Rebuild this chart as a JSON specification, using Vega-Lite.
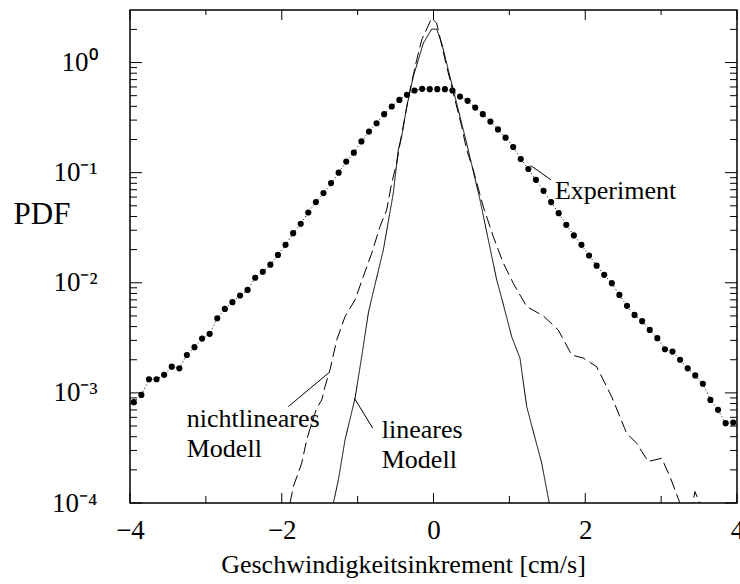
{
  "$schema": "https://vega.github.io/schema/vega-lite/v6.json",
  "width": 607,
  "height": 493,
  "autosize": {"type": "none"},
  "padding": {"left": 130, "top": 10, "right": 3, "bottom": 81},
  "background": "white",
  "config": {
    "font": "Liberation Serif",
    "view": {"stroke": "#000", "strokeWidth": 1.5},
    "axis": {
      "grid": false,
      "domain": false,
      "tickSize": 0,
      "tickOpacity": 0,
      "labelColor": "#000",
      "labelFont": "Liberation Serif",
      "titleFont": "Liberation Serif",
      "titleColor": "#000",
      "titleFontWeight": "normal",
      "labelOverlap": false,
      "labelFlush": false
    }
  },
  "datasets": {
    "experiment": [
      {"v": -3.95, "pdf": 0.000824}, {"v": -3.85, "pdf": 0.000959}, {"v": -3.75, "pdf": 0.00133}, {"v": -3.65, "pdf": 0.00133},
      {"v": -3.55, "pdf": 0.00146}, {"v": -3.45, "pdf": 0.00173}, {"v": -3.35, "pdf": 0.00167}, {"v": -3.25, "pdf": 0.00221},
      {"v": -3.15, "pdf": 0.0026}, {"v": -3.05, "pdf": 0.00311}, {"v": -2.95, "pdf": 0.00344}, {"v": -2.85, "pdf": 0.00476},
      {"v": -2.75, "pdf": 0.00579}, {"v": -2.65, "pdf": 0.00667}, {"v": -2.55, "pdf": 0.00766}, {"v": -2.45, "pdf": 0.00861},
      {"v": -2.35, "pdf": 0.0111}, {"v": -2.25, "pdf": 0.0126}, {"v": -2.15, "pdf": 0.0146}, {"v": -2.05, "pdf": 0.0179},
      {"v": -1.95, "pdf": 0.0221}, {"v": -1.85, "pdf": 0.0282}, {"v": -1.75, "pdf": 0.0343}, {"v": -1.65, "pdf": 0.0435},
      {"v": -1.55, "pdf": 0.054}, {"v": -1.45, "pdf": 0.0652}, {"v": -1.35, "pdf": 0.0804}, {"v": -1.25, "pdf": 0.1},
      {"v": -1.15, "pdf": 0.126}, {"v": -1.05, "pdf": 0.152}, {"v": -0.95, "pdf": 0.192}, {"v": -0.85, "pdf": 0.236},
      {"v": -0.75, "pdf": 0.281}, {"v": -0.65, "pdf": 0.34}, {"v": -0.55, "pdf": 0.399}, {"v": -0.45, "pdf": 0.458},
      {"v": -0.35, "pdf": 0.509}, {"v": -0.25, "pdf": 0.557}, {"v": -0.15, "pdf": 0.577}, {"v": -0.05, "pdf": 0.573},
      {"v": 0.05, "pdf": 0.573}, {"v": 0.15, "pdf": 0.573}, {"v": 0.25, "pdf": 0.557}, {"v": 0.35, "pdf": 0.491},
      {"v": 0.45, "pdf": 0.449}, {"v": 0.55, "pdf": 0.39}, {"v": 0.65, "pdf": 0.34}, {"v": 0.75, "pdf": 0.291},
      {"v": 0.85, "pdf": 0.247}, {"v": 0.95, "pdf": 0.208}, {"v": 1.05, "pdf": 0.171}, {"v": 1.15, "pdf": 0.133},
      {"v": 1.25, "pdf": 0.108}, {"v": 1.35, "pdf": 0.0861}, {"v": 1.45, "pdf": 0.0684}, {"v": 1.55, "pdf": 0.054},
      {"v": 1.65, "pdf": 0.0429}, {"v": 1.75, "pdf": 0.0336}, {"v": 1.85, "pdf": 0.0269}, {"v": 1.95, "pdf": 0.0221},
      {"v": 2.05, "pdf": 0.0177}, {"v": 2.15, "pdf": 0.0143}, {"v": 2.25, "pdf": 0.0118}, {"v": 2.35, "pdf": 0.00991},
      {"v": 2.45, "pdf": 0.00776}, {"v": 2.55, "pdf": 0.00617}, {"v": 2.65, "pdf": 0.00511}, {"v": 2.75, "pdf": 0.00448},
      {"v": 2.85, "pdf": 0.00373}, {"v": 2.95, "pdf": 0.00314}, {"v": 3.05, "pdf": 0.00249}, {"v": 3.15, "pdf": 0.00237},
      {"v": 3.25, "pdf": 0.002}, {"v": 3.35, "pdf": 0.00167}, {"v": 3.45, "pdf": 0.00144}, {"v": 3.55, "pdf": 0.00121},
      {"v": 3.65, "pdf": 0.000863}, {"v": 3.75, "pdf": 0.000701}, {"v": 3.85, "pdf": 0.000531}, {"v": 3.95, "pdf": 0.000537}
    ],
    "models": [
      {"model": "linear", "v": -1.4, "pdf": 0.00005}, {"model": "linear", "v": -1.32, "pdf": 0.0000995},
      {"model": "linear", "v": -1.254, "pdf": 0.000162}, {"model": "linear", "v": -1.166, "pdf": 0.000374},
      {"model": "linear", "v": -1.034, "pdf": 0.000895}, {"model": "linear", "v": -0.946, "pdf": 0.00214},
      {"model": "linear", "v": -0.859, "pdf": 0.0053}, {"model": "linear", "v": -0.814, "pdf": 0.00724},
      {"model": "linear", "v": -0.661, "pdf": 0.0199}, {"model": "linear", "v": -0.53, "pdf": 0.0652},
      {"model": "linear", "v": -0.464, "pdf": 0.161}, {"model": "linear", "v": -0.419, "pdf": 0.213},
      {"model": "linear", "v": -0.353, "pdf": 0.398}, {"model": "linear", "v": -0.266, "pdf": 0.746},
      {"model": "linear", "v": -0.134, "pdf": 1.5}, {"model": "linear", "v": -0.024, "pdf": 2.01},
      {"model": "linear", "v": 0.042, "pdf": 2.01}, {"model": "linear", "v": 0.108, "pdf": 1.5},
      {"model": "linear", "v": 0.217, "pdf": 0.746}, {"model": "linear", "v": 0.327, "pdf": 0.372},
      {"model": "linear", "v": 0.437, "pdf": 0.185}, {"model": "linear", "v": 0.613, "pdf": 0.0566},
      {"model": "linear", "v": 0.833, "pdf": 0.0106}, {"model": "linear", "v": 0.899, "pdf": 0.00724},
      {"model": "linear", "v": 1.03, "pdf": 0.00324}, {"model": "linear", "v": 1.14, "pdf": 0.00207},
      {"model": "linear", "v": 1.228, "pdf": 0.000752}, {"model": "linear", "v": 1.426, "pdf": 0.00023},
      {"model": "linear", "v": 1.526, "pdf": 0.0000995}, {"model": "linear", "v": 1.6, "pdf": 0.00005},
      {"model": "nonlinear", "v": -1.957, "pdf": 0.0000708}, {"model": "nonlinear", "v": -1.891, "pdf": 0.0000995},
      {"model": "nonlinear", "v": -1.847, "pdf": 0.000141}, {"model": "nonlinear", "v": -1.737, "pdf": 0.00023},
      {"model": "nonlinear", "v": -1.671, "pdf": 0.000374}, {"model": "nonlinear", "v": -1.605, "pdf": 0.000531},
      {"model": "nonlinear", "v": -1.539, "pdf": 0.000726}, {"model": "nonlinear", "v": -1.473, "pdf": 0.000863},
      {"model": "nonlinear", "v": -1.43, "pdf": 0.00114}, {"model": "nonlinear", "v": -1.364, "pdf": 0.00162},
      {"model": "nonlinear", "v": -1.275, "pdf": 0.00303}, {"model": "nonlinear", "v": -1.166, "pdf": 0.00493},
      {"model": "nonlinear", "v": -1.034, "pdf": 0.007}, {"model": "nonlinear", "v": -0.925, "pdf": 0.0114},
      {"model": "nonlinear", "v": -0.814, "pdf": 0.0186}, {"model": "nonlinear", "v": -0.705, "pdf": 0.0324},
      {"model": "nonlinear", "v": -0.617, "pdf": 0.0459}, {"model": "nonlinear", "v": -0.551, "pdf": 0.0804},
      {"model": "nonlinear", "v": -0.485, "pdf": 0.122}, {"model": "nonlinear", "v": -0.441, "pdf": 0.185},
      {"model": "nonlinear", "v": -0.375, "pdf": 0.324}, {"model": "nonlinear", "v": -0.31, "pdf": 0.565},
      {"model": "nonlinear", "v": -0.221, "pdf": 1.06}, {"model": "nonlinear", "v": -0.155, "pdf": 1.61},
      {"model": "nonlinear", "v": -0.024, "pdf": 2.53}, {"model": "nonlinear", "v": 0.042, "pdf": 2.28},
      {"model": "nonlinear", "v": 0.152, "pdf": 1.06}, {"model": "nonlinear", "v": 0.261, "pdf": 0.527},
      {"model": "nonlinear", "v": 0.372, "pdf": 0.262}, {"model": "nonlinear", "v": 0.437, "pdf": 0.161},
      {"model": "nonlinear", "v": 0.524, "pdf": 0.106}, {"model": "nonlinear", "v": 0.656, "pdf": 0.0492},
      {"model": "nonlinear", "v": 0.788, "pdf": 0.0263}, {"model": "nonlinear", "v": 0.92, "pdf": 0.0151},
      {"model": "nonlinear", "v": 1.051, "pdf": 0.00991}, {"model": "nonlinear", "v": 1.228, "pdf": 0.00608},
      {"model": "nonlinear", "v": 1.447, "pdf": 0.005}, {"model": "nonlinear", "v": 1.644, "pdf": 0.00373},
      {"model": "nonlinear", "v": 1.821, "pdf": 0.00221}, {"model": "nonlinear", "v": 1.974, "pdf": 0.00207},
      {"model": "nonlinear", "v": 2.15, "pdf": 0.00173}, {"model": "nonlinear", "v": 2.348, "pdf": 0.000925},
      {"model": "nonlinear", "v": 2.545, "pdf": 0.000431}, {"model": "nonlinear", "v": 2.677, "pdf": 0.000349},
      {"model": "nonlinear", "v": 2.83, "pdf": 0.000238}, {"model": "nonlinear", "v": 3.007, "pdf": 0.000255},
      {"model": "nonlinear", "v": 3.116, "pdf": 0.000174}, {"model": "nonlinear", "v": 3.248, "pdf": 0.0000995},
      {"model": "nonlinear", "v": 3.38, "pdf": 0.0000708}, {"model": "nonlinear", "v": 3.445, "pdf": 0.000127},
      {"model": "nonlinear", "v": 3.511, "pdf": 0.0000995}, {"model": "nonlinear", "v": 3.58, "pdf": 0.00005}
    ],
    "notes": [
      {"v": 1.6, "pdf": 0.0574, "label": "Experiment"},
      {"v": -3.252, "pdf": 0.000494, "label": "nichtlineares\nModell"},
      {"v": -0.682, "pdf": 0.000393, "label": "lineares\nModell"}
    ],
    "leaders": [
      {"v": 1.281, "pdf": 0.116, "v2": 1.548, "pdf2": 0.0861},
      {"v": -1.913, "pdf": 0.000751, "v2": -1.386, "pdf2": 0.00151},
      {"v": -1.043, "pdf": 0.000895, "v2": -0.801, "pdf2": 0.000478}
    ],
    "xTicks": [
      {"v": -4, "kind": "major"}, {"v": -3, "kind": "minor"}, {"v": -2, "kind": "major"}, {"v": -1, "kind": "minor"},
      {"v": 0, "kind": "major"}, {"v": 1, "kind": "minor"}, {"v": 2, "kind": "major"}, {"v": 3, "kind": "minor"},
      {"v": 4, "kind": "major"}
    ],
    "yTicks": [
      {"pdf": 0.0001, "kind": "major"}, {"pdf": 0.0002, "kind": "minor"}, {"pdf": 0.0003, "kind": "minor"}, {"pdf": 0.0004, "kind": "minor"},
      {"pdf": 0.0005, "kind": "minor"}, {"pdf": 0.0006, "kind": "minor"}, {"pdf": 0.0007, "kind": "minor"}, {"pdf": 0.0008, "kind": "minor"},
      {"pdf": 0.0009, "kind": "minor"}, {"pdf": 0.001, "kind": "major"}, {"pdf": 0.002, "kind": "minor"}, {"pdf": 0.003, "kind": "minor"},
      {"pdf": 0.004, "kind": "minor"}, {"pdf": 0.005, "kind": "minor"}, {"pdf": 0.006, "kind": "minor"}, {"pdf": 0.007, "kind": "minor"},
      {"pdf": 0.008, "kind": "minor"}, {"pdf": 0.009, "kind": "minor"}, {"pdf": 0.01, "kind": "major"}, {"pdf": 0.02, "kind": "minor"},
      {"pdf": 0.03, "kind": "minor"}, {"pdf": 0.04, "kind": "minor"}, {"pdf": 0.05, "kind": "minor"}, {"pdf": 0.06, "kind": "minor"},
      {"pdf": 0.07, "kind": "minor"}, {"pdf": 0.08, "kind": "minor"}, {"pdf": 0.09, "kind": "minor"}, {"pdf": 0.1, "kind": "major"},
      {"pdf": 0.2, "kind": "minor"}, {"pdf": 0.3, "kind": "minor"}, {"pdf": 0.4, "kind": "minor"}, {"pdf": 0.5, "kind": "minor"},
      {"pdf": 0.6, "kind": "minor"}, {"pdf": 0.7, "kind": "minor"}, {"pdf": 0.8, "kind": "minor"}, {"pdf": 0.9, "kind": "minor"},
      {"pdf": 1, "kind": "major"}, {"pdf": 2, "kind": "minor"}
    ]
  },
  "layer": [
    {
      "data": {"name": "experiment"},
      "mark": {"type": "line", "color": "#000", "strokeWidth": 1, "strokeDash": [1, 2.5]},
      "encoding": {
        "x": {
          "field": "v", "type": "quantitative",
          "scale": {"domain": [-4, 4], "nice": false, "zero": false},
          "axis": {
            "orient": "bottom",
            "values": [-4, -2, 0, 2, 4],
            "labelExpr": "datum.value < 0 ? '−' + abs(datum.value) : '' + datum.value",
            "labelFontSize": 27,
            "labelPadding": 14,
            "title": "Geschwindigkeitsinkrement [cm/s]",
            "titleFontSize": 26,
            "titleBaseline": "alphabetic",
            "titleAnchor": "middle",
            "titleX": 273,
            "titleY": 69
          }
        },
        "y": {
          "field": "pdf", "type": "quantitative",
          "scale": {"type": "log", "domain": [0.0001, 3], "nice": false},
          "axis": {
            "orient": "left",
            "values": [0.0001, 0.001, 0.01, 0.1, 1],
            "labelExpr": "round(log(datum.value) / LN10) === 0 ? '10⁰' : round(log(datum.value) / LN10) === -1 ? '10⁻¹' : round(log(datum.value) / LN10) === -2 ? '10⁻²' : round(log(datum.value) / LN10) === -3 ? '10⁻³' : '10⁻⁴'",
            "labelFontSize": 27,
            "labelPadding": 33,
            "title": "PDF",
            "titleFontSize": 31,
            "titleAngle": 0,
            "titleAlign": "left",
            "titleBaseline": "alphabetic",
            "titleX": -117,
            "titleY": 213
          }
        }
      }
    },
    {
      "data": {"name": "experiment"},
      "mark": {"type": "circle", "color": "#000", "size": 38, "opacity": 1},
      "encoding": {
        "x": {"field": "v", "type": "quantitative", "axis": null},
        "y": {"field": "pdf", "type": "quantitative", "axis": null}
      }
    },
    {
      "data": {"name": "models"},
      "mark": {"type": "line", "color": "#000", "strokeWidth": 1, "clip": true},
      "encoding": {
        "x": {"field": "v", "type": "quantitative", "axis": null},
        "y": {"field": "pdf", "type": "quantitative", "axis": null},
        "detail": {"field": "model"},
        "strokeDash": {
          "field": "model", "type": "nominal",
          "scale": {"domain": ["linear", "nonlinear"], "range": [[1, 0], [12, 5]]},
          "legend": null
        }
      }
    },
    {
      "data": {"name": "leaders"},
      "mark": {"type": "rule", "color": "#000", "strokeWidth": 1},
      "encoding": {
        "x": {"field": "v", "type": "quantitative", "axis": null},
        "y": {"field": "pdf", "type": "quantitative", "axis": null},
        "x2": {"field": "v2"},
        "y2": {"field": "pdf2"}
      }
    },
    {
      "data": {"name": "xTicks"},
      "transform": [{"filter": "datum.kind === 'major'"}],
      "mark": {"type": "rule", "color": "#000", "strokeWidth": 1, "y2Offset": -10},
      "encoding": {
        "x": {"field": "v", "type": "quantitative", "axis": null},
        "y": {"datum": 0.0001, "type": "quantitative", "axis": null},
        "y2": {"datum": 0.0001}
      }
    },
    {
      "data": {"name": "xTicks"},
      "transform": [{"filter": "datum.kind === 'minor'"}],
      "mark": {"type": "rule", "color": "#000", "strokeWidth": 1, "y2Offset": -7},
      "encoding": {
        "x": {"field": "v", "type": "quantitative", "axis": null},
        "y": {"datum": 0.0001, "type": "quantitative", "axis": null},
        "y2": {"datum": 0.0001}
      }
    },
    {
      "data": {"name": "xTicks"},
      "transform": [{"filter": "datum.kind === 'major'"}],
      "mark": {"type": "rule", "color": "#000", "strokeWidth": 1, "y2Offset": 10},
      "encoding": {
        "x": {"field": "v", "type": "quantitative", "axis": null},
        "y": {"datum": 3, "type": "quantitative", "axis": null},
        "y2": {"datum": 3}
      }
    },
    {
      "data": {"name": "xTicks"},
      "transform": [{"filter": "datum.kind === 'minor'"}],
      "mark": {"type": "rule", "color": "#000", "strokeWidth": 1, "y2Offset": 5},
      "encoding": {
        "x": {"field": "v", "type": "quantitative", "axis": null},
        "y": {"datum": 3, "type": "quantitative", "axis": null},
        "y2": {"datum": 3}
      }
    },
    {
      "data": {"name": "yTicks"},
      "transform": [{"filter": "datum.kind === 'major'"}],
      "mark": {"type": "rule", "color": "#000", "strokeWidth": 1, "x2Offset": 12},
      "encoding": {
        "y": {"field": "pdf", "type": "quantitative", "axis": null},
        "x": {"datum": -4, "type": "quantitative", "axis": null},
        "x2": {"datum": -4}
      }
    },
    {
      "data": {"name": "yTicks"},
      "transform": [{"filter": "datum.kind === 'minor'"}],
      "mark": {"type": "rule", "color": "#000", "strokeWidth": 1, "x2Offset": 7},
      "encoding": {
        "y": {"field": "pdf", "type": "quantitative", "axis": null},
        "x": {"datum": -4, "type": "quantitative", "axis": null},
        "x2": {"datum": -4}
      }
    },
    {
      "data": {"name": "yTicks"},
      "transform": [{"filter": "datum.kind === 'major'"}],
      "mark": {"type": "rule", "color": "#000", "strokeWidth": 1, "x2Offset": -12},
      "encoding": {
        "y": {"field": "pdf", "type": "quantitative", "axis": null},
        "x": {"datum": 4, "type": "quantitative", "axis": null},
        "x2": {"datum": 4}
      }
    },
    {
      "data": {"name": "yTicks"},
      "transform": [{"filter": "datum.kind === 'minor'"}],
      "mark": {"type": "rule", "color": "#000", "strokeWidth": 1, "x2Offset": -7},
      "encoding": {
        "y": {"field": "pdf", "type": "quantitative", "axis": null},
        "x": {"datum": 4, "type": "quantitative", "axis": null},
        "x2": {"datum": 4}
      }
    },
    {
      "data": {"name": "notes"},
      "mark": {"type": "text", "align": "left", "baseline": "alphabetic", "fontSize": 26, "font": "Liberation Serif", "color": "#000", "lineBreak": "\n", "lineHeight": 30},
      "encoding": {
        "x": {"field": "v", "type": "quantitative", "axis": null},
        "y": {"field": "pdf", "type": "quantitative", "axis": null},
        "text": {"field": "label"}
      }
    }
  ],
  "resolve": {"axis": {"x": "independent", "y": "independent"}}
}
